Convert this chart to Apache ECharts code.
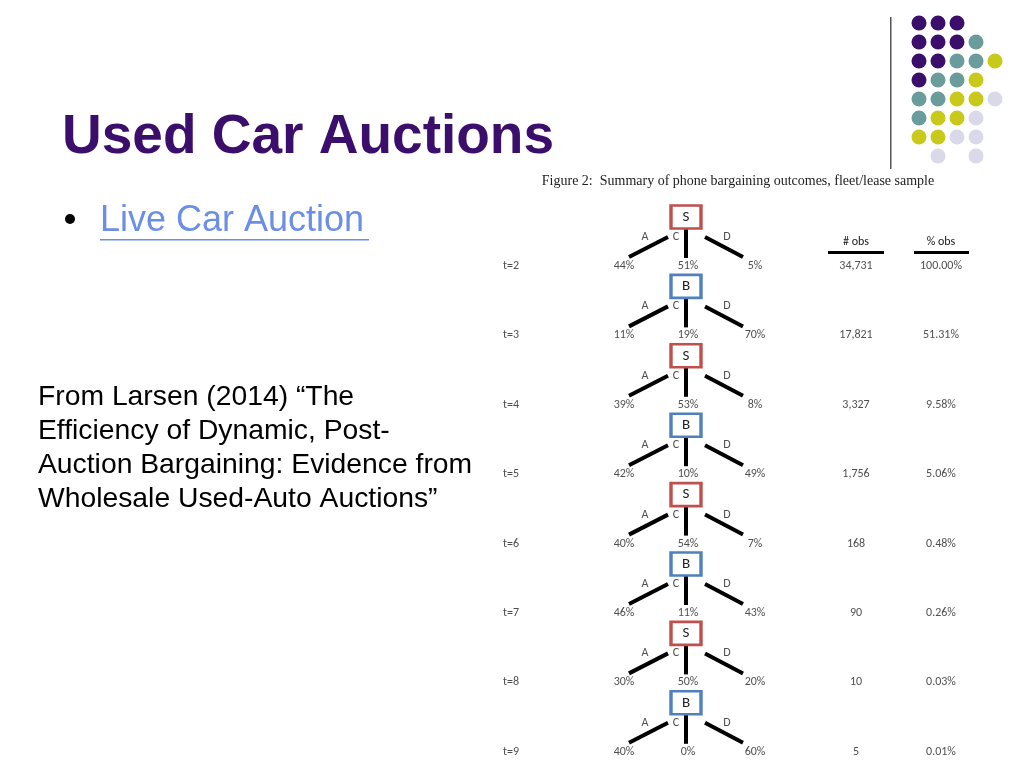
<!DOCTYPE html>
<html lang="en">
  <head>
    <meta charset="UTF-8" />
    <script src="https://cdn.jsdelivr.net/npm/echarts@6/dist/echarts.min.js"></script>
    <title>Used Car Auctions</title>
    <style>
      html, body, #main { width: 100%; height: 100%; margin: 0; padding: 0; overflow: hidden; background: #fff; }
    </style>
  </head>
  <body>
    <div id="main"></div>
    <script>
      // tree rows
      const periods = ["t=2", "t=3", "t=4", "t=5", "t=6", "t=7", "t=8", "t=9"];
      const movers = ["S", "B", "S", "B", "S", "B", "S", "B"];
      const pctA = ["44%", "11%", "39%", "42%", "40%", "46%", "30%", "40%"];
      const pctC = ["51%", "19%", "53%", "10%", "54%", "11%", "50%", "0%"];
      const pctD = ["5%", "70%", "8%", "49%", "7%", "43%", "20%", "60%"];
      const nObs = ["34,731", "17,821", "3,327", "1,756", "168", "90", "10", "5"];
      const pObs = ["100.00%", "51.31%", "9.58%", "5.06%", "0.48%", "0.26%", "0.03%", "0.01%"];

      // decorative dot grid (rows top to bottom, "" = empty)
      const dotRows = [
        ["P", "P", "P", "", ""],
        ["P", "P", "P", "T", ""],
        ["P", "P", "T", "T", "Y"],
        ["P", "T", "T", "Y", ""],
        ["T", "T", "Y", "Y", "L"],
        ["T", "Y", "Y", "L", ""],
        ["Y", "Y", "L", "L", ""],
        ["", "L", "", "L", ""]
      ];
      const dotColors = { P: "#3b0e6b", T: "#6b9c9c", Y: "#c9c91c", L: "#d9d9ea" };

      const rowGap = 69.4, row0 = 266;
      const yMin = -row0 / rowGap, yMax = (768 - row0) / rowGap;
      const boxUp = 49 / rowGap;

      const font = "'Liberation Sans', Arial, sans-serif";
      const chart = echarts.init(document.getElementById("main"));

      const boxes = movers.map((m, i) => ({
        value: [686, i - boxUp],
        itemStyle: { borderColor: m === "S" ? "#c0504d" : "#4f81bd" },
        label: { formatter: m }
      }));
      const branches = [];
      periods.forEach((p, i) => {
        branches.push([[668, i - 29 / rowGap], [629, i - 9 / rowGap]]);
        branches.push([[686, i - 37 / rowGap], [686, i - 8 / rowGap]]);
        branches.push([[705, i - 29 / rowGap], [743, i - 9 / rowGap]]);
      });
      const txt = (x, arr, dy) => arr.map((s, i) => ({ value: [x, i + dy], label: { formatter: s } }));
      const smallLabel = { show: true, position: "inside", color: "#222", fontSize: 12, fontFamily: "Carlito, 'DejaVu Sans', sans-serif" };
      const letters = []
        .concat(periods.map((p, i) => ({ value: [645, i - 29 / rowGap], label: { formatter: "A" } })))
        .concat(periods.map((p, i) => ({ value: [676, i - 29 / rowGap], label: { formatter: "C" } })))
        .concat(periods.map((p, i) => ({ value: [727, i - 29 / rowGap], label: { formatter: "D" } })));

      const dots = [];
      dotRows.forEach((r, ri) => r.forEach((c, ci) => {
        if (c) dots.push({ value: [919 + ci * 19, ri], itemStyle: { color: dotColors[c] } });
      }));

      chart.setOption({
        animation: false,
        grid: [
          { left: 0, top: 0, width: 1024, height: 768 },
          { left: 919 - 9.5, top: 23 - 9.5, width: 95, height: 152 }
        ],
        xAxis: [
          { gridIndex: 0, type: "value", min: 0, max: 1024, show: false },
          { gridIndex: 1, type: "value", min: 919 - 9.5, max: 919 + 85.5, show: false }
        ],
        yAxis: [
          { gridIndex: 0, type: "value", min: yMin, max: yMax, inverse: true, show: false },
          { gridIndex: 1, type: "value", min: -0.5, max: 7.5, inverse: true, show: false }
        ],
        series: [
          {
            type: "lines", coordinateSystem: "cartesian2d", xAxisIndex: 0, yAxisIndex: 0,
            data: branches.map(c => ({ coords: c })),
            lineStyle: { color: "#000", width: 4, opacity: 1 }
          },
          {
            type: "scatter", symbol: "rect", symbolSize: [30, 23], data: boxes,
            itemStyle: { color: "#fff", borderWidth: 3, opacity: 1 },
            label: { show: true, position: "inside", color: "#222", fontSize: 15, fontFamily: "Carlito, 'DejaVu Sans', sans-serif" }
          },
          { type: "scatter", symbolSize: 0, data: letters, label: smallLabel },
          { type: "scatter", symbolSize: 0, data: txt(511, periods, 0), label: smallLabel },
          { type: "scatter", symbolSize: 0, data: txt(624, pctA, 0), label: smallLabel },
          { type: "scatter", symbolSize: 0, data: txt(688, pctC, 0), label: smallLabel },
          { type: "scatter", symbolSize: 0, data: txt(755, pctD, 0), label: smallLabel },
          { type: "scatter", symbolSize: 0, data: txt(856, nObs, 0), label: smallLabel },
          { type: "scatter", symbolSize: 0, data: txt(941, pObs, 0), label: smallLabel },
          {
            type: "scatter", xAxisIndex: 1, yAxisIndex: 1, symbolSize: 15, data: dots,
            itemStyle: { opacity: 1 }
          }
        ],
        graphic: [
          { type: "rect", shape: { x: 890, y: 17, width: 1.5, height: 152 }, style: { fill: "#555" } },
          { type: "text", left: 62, top: 110, style: { text: "Used Car Auctions", font: "bold 55px " + font, fill: "#3b0e6b" } },
          { type: "circle", shape: { cx: 70, cy: 219, r: 5 }, style: { fill: "#000" } },
          { type: "text", left: 100, top: 203, style: { text: "Live Car Auction", font: "36px " + font, fill: "#6b8fe6" } },
          { type: "rect", shape: { x: 100, y: 239, width: 269, height: 1.5 }, style: { fill: "#6b8fe6" } },
          {
            type: "text", left: 38, top: 380,
            style: {
              text: "From Larsen (2014) \u201cThe\nEfficiency of Dynamic, Post-\nAuction Bargaining: Evidence from\nWholesale Used-Auto Auctions\u201d",
              font: "28.3px " + font, fill: "#000", lineHeight: 34
            }
          },
          {
            type: "text", x: 738, y: 181,
            style: {
              text: "Figure 2:  Summary of phone bargaining outcomes, fleet/lease sample",
              font: "14px 'Liberation Serif', 'DejaVu Serif', serif", fill: "#222", align: "center", verticalAlign: "middle"
            }
          },
          { type: "text", x: 856, y: 242, style: { text: "# obs", font: "12px Carlito, 'DejaVu Sans', sans-serif", fill: "#222", align: "center", verticalAlign: "middle" } },
          { type: "text", x: 941, y: 242, style: { text: "% obs", font: "12px Carlito, 'DejaVu Sans', sans-serif", fill: "#222", align: "center", verticalAlign: "middle" } },
          { type: "rect", shape: { x: 828, y: 251, width: 56, height: 3 }, style: { fill: "#000" } },
          { type: "rect", shape: { x: 914, y: 251, width: 55, height: 3 }, style: { fill: "#000" } }
        ]
      });
    </script>
  </body>
</html>
